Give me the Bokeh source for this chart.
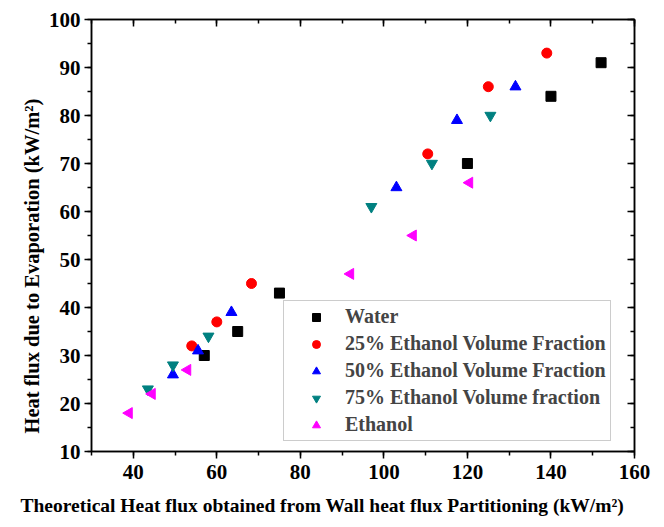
from bokeh.plotting import figure
from bokeh.models import LinearAxis, SingleIntervalTicker, Legend, LegendItem, Range1d, Title
from bokeh.embed import file_html
from bokeh.resources import INLINE

# Data
water_x = [57, 65, 75, 120, 140, 152]
water_y = [30, 35, 43, 70, 84, 91]
e25_x = [54, 60, 68.3, 110.5, 125, 139]
e25_y = [32, 37, 45, 72, 86, 93]
e50_x = [49.5, 55.5, 63.5, 103, 117.5, 131.5]
e50_y = [26, 31, 39, 65, 79, 86]
e75_x = [43.5, 49.5, 58, 97, 111.5, 125.5]
e75_y = [23, 28, 34, 61, 70, 80]
eth_x = [39, 44.5, 53, 92, 107, 120.5]
eth_y = [18, 22, 27, 47, 55, 66]

labels = ["Water", "25% Ethanol Volume Fraction", "50% Ethanol Volume Fraction",
          "75% Ethanol Volume fraction", "Ethanol"]
x_title = "Theoretical Heat flux obtained from Wall heat flux Partitioning (kW/m²)"
y_title = "Heat flux due to Evaporation (kW/m²)"

FONT = "Liberation Serif"

p = figure(width=664, height=527, output_backend="svg", toolbar_location=None,
           x_range=Range1d(30, 160), y_range=Range1d(10, 100),
           min_border_left=91, min_border_right=30, min_border_top=19, min_border_bottom=76)
p.grid.visible = False
p.outline_line_color = "black"
p.outline_line_width = 1.5

r1 = p.scatter(water_x, water_y, marker="square", size=10, color="black")
r2 = p.scatter(e25_x, e25_y, marker="circle", size=10, color="red")
r3 = p.scatter(e50_x, e50_y, marker="triangle", size=11, color="blue")
r4 = p.scatter(e75_x, e75_y, marker="inverted_triangle", size=11, color="#008080")
r5 = p.scatter(eth_x, eth_y, marker="triangle", angle=90, angle_units="deg",
               size=11, color="#FF00FF")

def style_axis(ax, outward=True, show_labels=True):
    ax.axis_line_width = 1.5
    ax.major_tick_line_width = 1.5
    ax.minor_tick_line_width = 1.5
    if outward:
        ax.major_tick_out = 7
        ax.major_tick_in = 0
        ax.minor_tick_out = 4
        ax.minor_tick_in = 0
    else:
        ax.major_tick_out = 0
        ax.major_tick_in = 7
        ax.minor_tick_out = 0
        ax.minor_tick_in = 4
    ax.major_label_text_font = FONT
    ax.major_label_text_font_style = "bold"
    ax.major_label_text_font_size = "21px"
    ax.major_label_text_color = "black" if show_labels else None

xax = p.xaxis[0]
yax = p.yaxis[0]
xax.ticker = SingleIntervalTicker(interval=20, num_minor_ticks=2)
yax.ticker = SingleIntervalTicker(interval=10, num_minor_ticks=2)
style_axis(xax)
style_axis(yax)
xax.major_label_standoff = 6
yax.major_label_standoff = 4

top = LinearAxis(ticker=SingleIntervalTicker(interval=20, num_minor_ticks=2))
right = LinearAxis(ticker=SingleIntervalTicker(interval=10, num_minor_ticks=2))
style_axis(top, outward=False, show_labels=False)
style_axis(right, outward=False, show_labels=False)
top.major_label_text_font_size = "0px"
right.major_label_text_font_size = "0px"
p.add_layout(top, "above")
p.add_layout(right, "right")

# Axis titles as side-panel titles
xt = Title(text=x_title, align="left", offset=-71, standoff=22,
           text_font=FONT, text_font_style="bold", text_font_size="19.5px",
           text_color="black")
p.add_layout(xt, "below")
yt = Title(text=y_title, align="left", offset=18, standoff=6,
           text_font=FONT, text_font_style="bold", text_font_size="20.5px",
           text_color="black")
p.add_layout(yt, "left")

legend = Legend(items=[LegendItem(label=l, renderers=[r]) for l, r in
                       zip(labels, [r1, r2, r3, r4, r5])],
                location=(192, 10))
legend.label_text_font = FONT
legend.label_text_font_style = "bold"
legend.label_text_font_size = "20px"
legend.border_line_color = "#999999"
legend.border_line_width = 1.5
legend.padding = 4
legend.spacing = 4
legend.glyph_width = 56
legend.glyph_height = 20
legend.label_height = 20
legend.label_standoff = 1
legend.margin = 0
p.add_layout(legend, "center")

open("out.html", "w").write(file_html(p, INLINE))
